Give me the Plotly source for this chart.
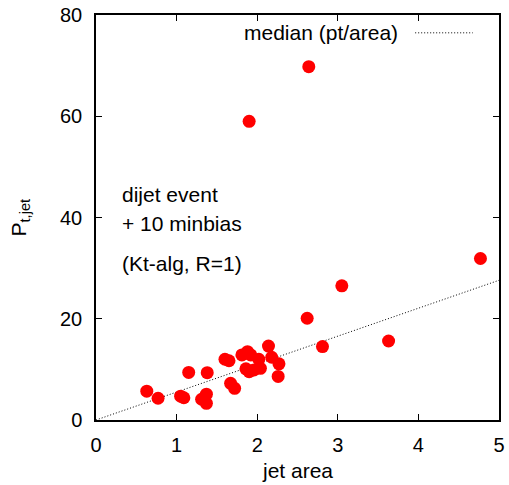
import plotly.graph_objects as go

# Jet area vs jet pt (dijet event + 10 minbias, Kt-alg R=1)
jet_area = [0.63, 0.77, 1.05, 1.09, 1.15, 1.38, 1.31, 1.37, 1.37,
            1.60, 1.65, 1.67, 1.72, 1.81, 1.88, 1.92, 1.86, 1.90,
            1.96, 2.02, 2.04, 2.14, 2.18, 2.27, 2.26, 2.62, 2.81,
            3.05, 3.63, 2.64, 1.90, 4.77]
jet_pt = [5.7, 4.3, 4.7, 4.4, 9.4, 9.35, 4.1, 5.1, 3.3,
          12.0, 11.7, 7.25, 6.25, 12.85, 13.5, 12.85, 10.1, 9.55,
          9.9, 12.0, 10.2, 14.6, 12.4, 11.1, 8.6, 20.1, 14.5,
          26.5, 15.6, 69.8, 59.0, 31.9]

# median (pt/area) line endpoints
median_x = [0, 5]
median_y = [0, 27.6]

x_ticks = [0, 1, 2, 3, 4, 5]
y_ticks = [0, 20, 40, 60, 80]

FONT = "Liberation Sans, Arial, Helvetica, sans-serif"
TXT = 21

fig = go.Figure()
fig.add_trace(go.Scatter(x=median_x, y=median_y, mode="lines",
                         line=dict(color="black", width=1, dash="1px,2px"),
                         showlegend=False, hoverinfo="skip"))
fig.add_trace(go.Scatter(x=jet_area, y=jet_pt, mode="markers",
                         marker=dict(color="#ff0000", size=13, line=dict(width=0)),
                         showlegend=False))

axis_common = dict(showgrid=False, zeroline=False, showline=True, linecolor="black",
                   linewidth=1.5, mirror="allticks", ticks="inside", ticklen=6,
                   tickwidth=1, tickcolor="black", automargin=False,
                   tickfont=dict(family=FONT, size=20, color="black"))

fig.update_xaxes(range=[0, 5], tickvals=x_ticks, ticklabelstandoff=6, **axis_common)
fig.update_yaxes(range=[0, 80], tickvals=y_ticks, ticklabelstandoff=8, **axis_common)

# axis titles
fig.add_annotation(x=0.5, y=-0.124, xref="paper", yref="paper", text="jet area",
                   showarrow=False, xanchor="center", yanchor="middle",
                   font=dict(family=FONT, size=TXT, color="black"))
fig.add_annotation(x=-0.191, y=0.5, xref="paper", yref="paper", text="P<sub>t,jet</sub>",
                   showarrow=False, xanchor="center", yanchor="middle", textangle=-90,
                   font=dict(family=FONT, size=TXT, color="black"))

annots = [("dijet event", 44.6), ("+ 10 minbias", 38.8), ("(Kt-alg, R=1)", 31.0)]
for txt, yv in annots:
    fig.add_annotation(x=0.298, y=yv, xref="x", yref="y", text=txt, showarrow=False,
                       xanchor="left", yanchor="middle",
                       font=dict(family=FONT, size=TXT, color="black"))

# legend entry drawn manually (text left, sample right, as in the original)
fig.add_annotation(x=0.754, y=0.956, xref="paper", yref="paper", text="median (pt/area)",
                   showarrow=False, xanchor="right", yanchor="middle",
                   font=dict(family=FONT, size=TXT, color="black"))
fig.add_shape(type="line", xref="paper", yref="paper", x0=0.792, x1=0.935, y0=0.956, y1=0.956,
              line=dict(color="black", width=1, dash="1px,2px"))

fig.update_layout(width=509, height=485, margin=dict(l=96, r=10, t=15, b=65),
                  plot_bgcolor="white", paper_bgcolor="white")

fig.write_html("out.html")
